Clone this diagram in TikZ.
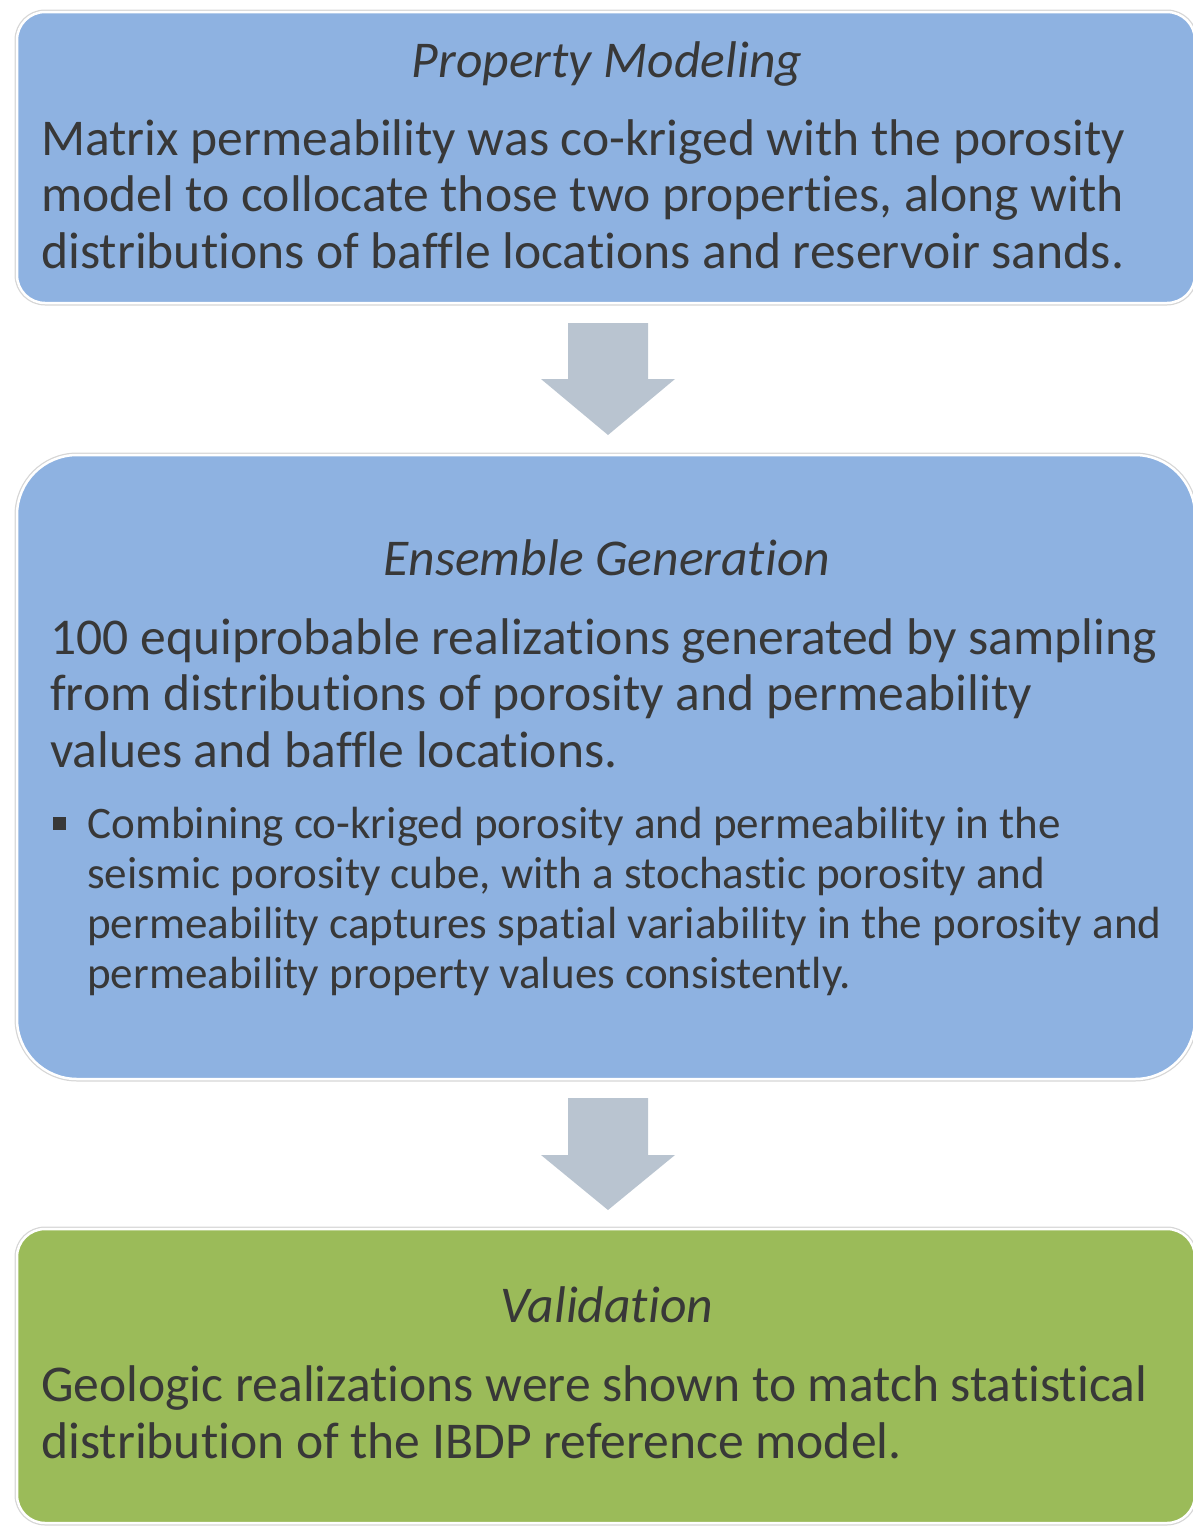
\documentclass[tikz,border=0pt]{standalone}
\usepackage{fontspec}
\setmainfont{Carlito}[Ligatures=CommonOff]
\definecolor{boxblue}{HTML}{8EB2E1}
\definecolor{boxgreen}{HTML}{9BBB59}
\definecolor{arrowgray}{HTML}{B9C4D0}
\definecolor{txt}{HTML}{383838}
\definecolor{rim}{HTML}{D6D6D6}
\tikzset{
  panel/.style={fill=#1, draw=white, line width=2.5pt},
  panelrim/.style={draw=rim, line width=5pt},
  bodytext/.style={anchor=base west, align=left, inner sep=0pt, text=txt, font=\fontsize{51.6}{56.5}\selectfont},
  titletext/.style={anchor=base, inner sep=0pt, text=txt, font=\fontsize{51.6}{56}\selectfont\itshape},
  bullettext/.style={anchor=base west, align=left, inner sep=0pt, text=txt, font=\fontsize{45.1}{49.7}\selectfont},
  blockarrow/.style={fill=arrowgray, draw=none}
}
\begin{document}
\begin{tikzpicture}[x=1pt,y=-1pt]
\useasboundingbox (0,0) rectangle (1192,1526);
% box 1
\draw[panelrim, rounded corners=28pt] (17,12) rectangle (1195,303);
\draw[panel=boxblue, rounded corners=28pt] (17,12) rectangle (1195,303);
\node[titletext] (t1) at (607,77) {Property Modeling};
\node[bodytext] (b1) at (41,268) {Matrix permeability was co-kriged with the porosity\\model to collocate those two properties, along with\\distributions of baffle locations and reservoir sands.};
% arrow 1
\fill[blockarrow] (568,323) -- (648,323) -- (648,379) -- (675,379) -- (608,435) -- (541,379) -- (568,379) -- cycle;
% box 2
\draw[panelrim, rounded corners=60pt] (17,455) rectangle (1195,1079);
\draw[panel=boxblue, rounded corners=60pt] (17,455) rectangle (1195,1079);
\node[titletext] (t2) at (607,575) {Ensemble Generation};
\node[bodytext] (b2) at (50,767) {100 equiprobable realizations generated by sampling\\from distributions of porosity and permeability\\values and baffle locations.};
\fill[txt] (53,817) rectangle (66,830);
\node[bullettext] (b2b) at (87,988) {Combining co-kriged porosity and permeability in the\\seismic porosity cube, with a stochastic porosity and\\permeability captures spatial variability in the porosity and\\permeability property values consistently.};
% arrow 2
\fill[blockarrow] (568,1098) -- (648,1098) -- (648,1155) -- (675,1155) -- (608,1210) -- (541,1155) -- (568,1155) -- cycle;
% box 3
\draw[panelrim, rounded corners=28pt] (17,1229) rectangle (1195,1523);
\draw[panel=boxgreen, rounded corners=28pt] (17,1229) rectangle (1195,1523);
\node[titletext] (t3) at (607,1322) {Validation};
\node[bodytext] (b3) at (41,1458) {Geologic realizations were shown to match statistical\\distribution of the IBDP reference model.};
\end{tikzpicture}
\end{document}
